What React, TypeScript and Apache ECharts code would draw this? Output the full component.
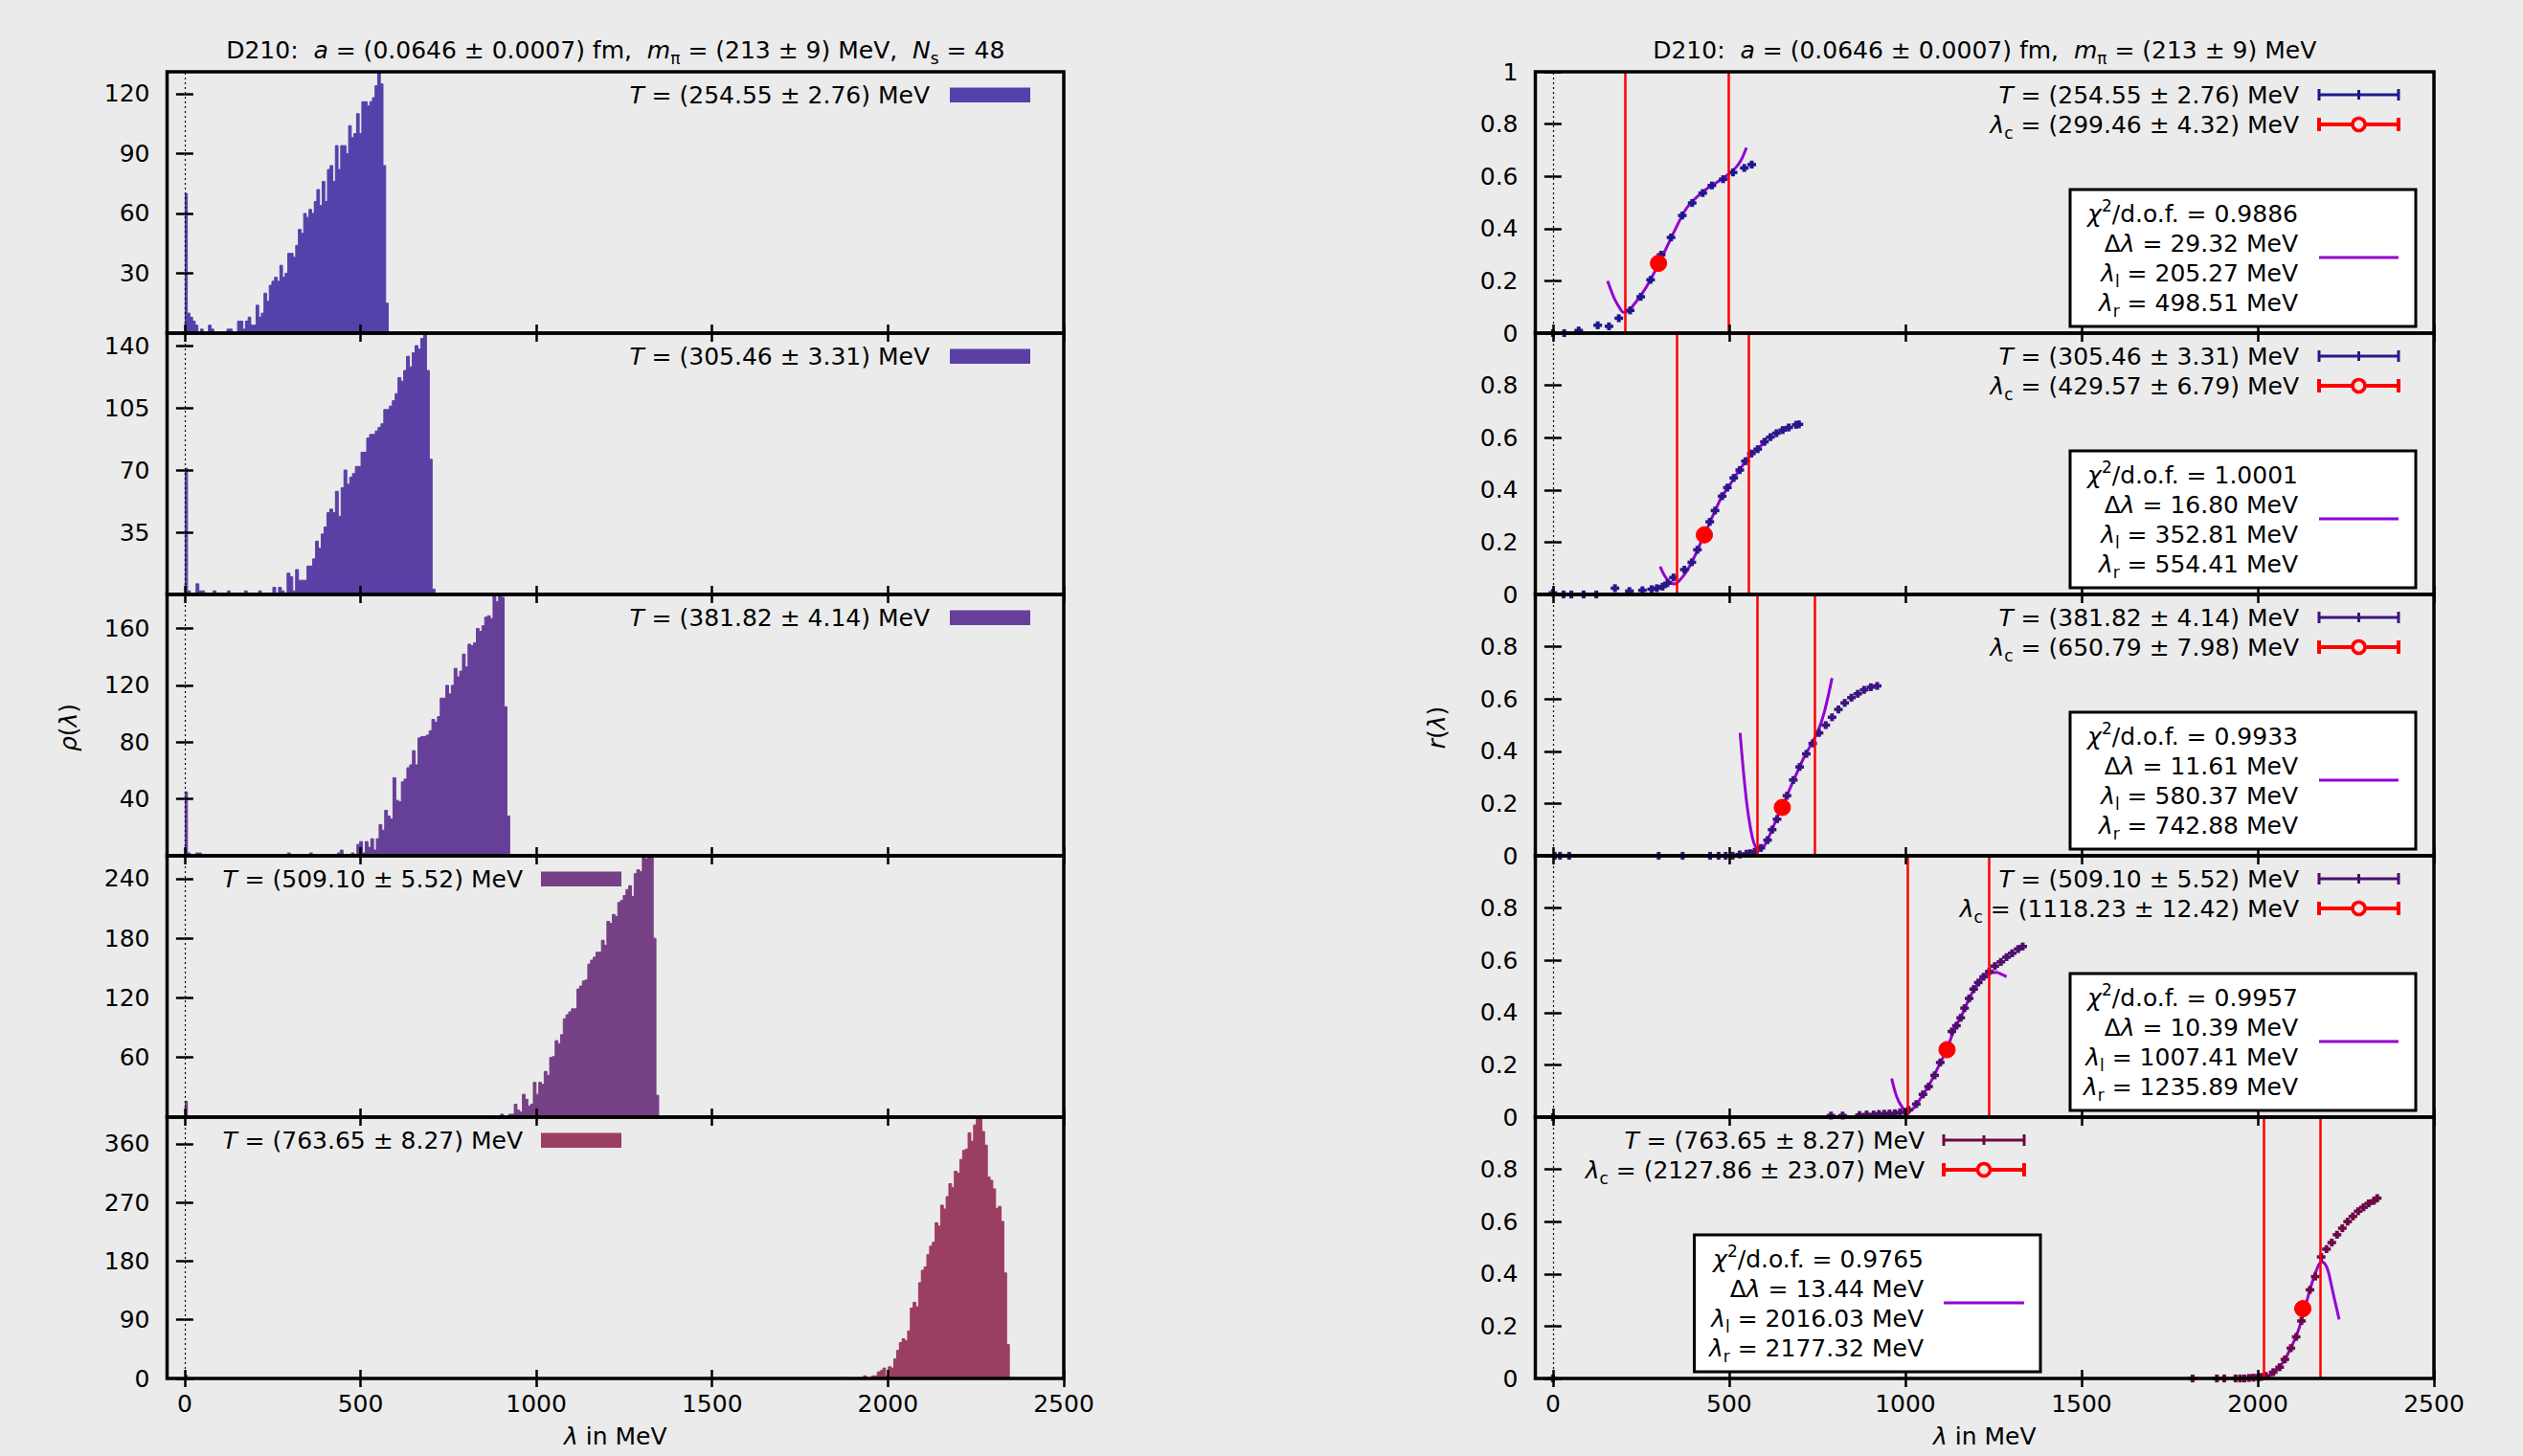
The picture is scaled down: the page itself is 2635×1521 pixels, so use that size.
import React, { useEffect, useRef } from 'react';
import * as echarts from 'echarts';

const W = 2635;
const H = 1521;
const F = 'DejaVu Sans';

// ---------------- data: histograms rho(lambda) ----------------
const hist1Start = 0;
const hist1Width = 7.52;
const hist1Counts = [70, 10, 8, 6, 4, 0, 2, 0, 0, 4, 2, 0, 0, 0, 0, 0, 2, 2, 0, 0,
  6, 6, 2, 6, 8, 4, 4, 14, 8, 10, 20, 16, 24, 26, 28, 26, 34, 28, 30, 40,
  40, 38, 44, 52, 50, 60, 58, 62, 60, 66, 72, 64, 76, 66, 82, 84, 76, 94, 82, 94,
  94, 90, 104, 98, 100, 110, 100, 116, 116, 114, 116, 118, 124, 131, 125, 84, 15];

const hist2Start = 0;
const hist2Width = 8.09;
const hist2Counts = [71, 2, 0, 0, 6, 2, 2, 0, 0, 0, 2, 0, 0, 0, 0, 2, 0, 0, 0, 0,
  0, 2, 0, 0, 0, 0, 2, 0, 0, 0, 0, 4, 0, 4, 2, 0, 12, 10, 2, 14,
  8, 8, 8, 16, 16, 20, 30, 26, 34, 38, 46, 48, 46, 58, 44, 60, 70, 62, 66, 68,
  72, 72, 80, 80, 88, 90, 90, 92, 94, 96, 104, 104, 106, 109, 113, 122, 120, 126, 134, 128,
  136, 140, 138, 144, 147, 126, 76, 3];

const hist3Start = 0;
const hist3Width = 7.9;
const hist3Counts = [45, 2, 0, 0, 2, 2, 0, 0, 0, 0, 0, 0, 0, 0, 0, 0, 0, 0, 0, 0,
  0, 0, 0, 0, 0, 0, 0, 0, 0, 0, 0, 0, 0, 0, 0, 0, 0, 2, 0, 0,
  0, 0, 0, 0, 0, 2, 0, 0, 0, 0, 0, 0, 0, 0, 0, 2, 4, 0, 0, 0,
  2, 0, 8, 10, 2, 10, 6, 12, 4, 12, 22, 18, 32, 28, 26, 55, 39, 38, 52, 54,
  62, 64, 74, 64, 83, 84, 84, 85, 88, 96, 94, 98, 111, 111, 120, 114, 120, 132, 126, 130,
  142, 133, 149, 148, 150, 160, 158, 162, 168, 169, 167, 184, 179, 184, 182, 105, 28];

const hist4LowStart = 0;
const hist4LowWidth = 7.75;
const hist4LowCounts = [16, 1];
const hist4Start = 790;
const hist4Width = 7.75;
const hist4Counts = [1, 0, 0, 0, 1, 0, 0, 0, 0,
  1, 1, 1, 0, 1, 3, 1, 1, 3, 3, 13, 7, 5, 23, 18, 11, 13, 35, 23, 35,
  33, 46, 42, 60, 61, 77, 74, 83, 99, 103, 106, 109, 109, 129, 132, 137, 138, 154, 158, 161,
  166, 166, 178, 173, 197, 195, 204, 202, 216, 218, 223, 229, 233, 222, 245, 249, 247, 262, 260, 263,
  261, 180, 22];

const hist5LowStart = 0;
const hist5LowWidth = 7.8;
const hist5LowCounts = [5];
const hist5Start = 1876;
const hist5Width = 7.82;
const hist5Counts = [1, 0, 0, 0, 0, 0, 0, 4, 1, 0, 4, 4, 10, 12, 16, 4, 18, 16, 30, 43,
  55, 61, 58, 73, 108, 117, 110, 147, 166, 171, 190, 203, 209, 239, 234, 266, 260, 279, 299, 293,
  318, 315, 336, 350, 352, 377, 364, 389, 401, 398, 379, 358, 309, 304, 291, 261, 264, 241, 162, 52];

const hist1YTicks = [30, 60, 90, 120];
const hist2YTicks = [35, 70, 105, 140];
const hist3YTicks = [40, 80, 120, 160];
const hist4YTicks = [60, 120, 180, 240];
const hist5YTicks = [0, 90, 180, 270, 360];
const xTicks = [0, 500, 1000, 1500, 2000, 2500];
const rTicksTop = [0, 0.2, 0.4, 0.6, 0.8, 1];
const rTicks = [0, 0.2, 0.4, 0.6, 0.8];

// ---------------- data: r(lambda) ----------------
const pts1Lambda = [0, 32, 73, 127, 159, 187, 219, 249, 277, 307, 335, 367, 395, 425, 451, 483, 511, 543, 564];
const pts1R = [0, 0, 0.01, 0.03, 0.026, 0.057, 0.087, 0.139, 0.204, 0.3, 0.366, 0.45, 0.498, 0.536, 0.565, 0.589, 0.615, 0.632, 0.645];
const fit1Lambda = [155, 175, 190, 200, 215, 230, 250, 275, 300, 325, 350, 375, 400, 425, 450, 475, 500, 520, 535, 549];
const fit1R = [0.2, 0.13, 0.095, 0.08, 0.085, 0.11, 0.145, 0.2, 0.265, 0.335, 0.405, 0.47, 0.51, 0.54, 0.565, 0.585, 0.61, 0.635, 0.665, 0.71];

const pts2Lambda = [0, 30, 52, 87, 123, 176, 217, 254, 280, 295, 311, 325, 342, 373, 394, 410, 428, 445, 460, 480, 495, 513, 530, 546, 563, 581, 600, 617, 634, 652, 669, 690, 698];
const pts2R = [0.006, 0, 0, 0, 0, 0.024, 0.013, 0.016, 0.02, 0.024, 0.03, 0.043, 0.065, 0.095, 0.123, 0.171, 0.225, 0.278, 0.321, 0.376, 0.409, 0.446, 0.476, 0.51, 0.539, 0.556, 0.584, 0.602, 0.617, 0.629, 0.639, 0.649, 0.651];
const fit2Lambda = [304, 320, 335, 345, 360, 380, 400, 420, 440, 460, 480, 500, 520, 540, 560, 580, 600, 606];
const fit2R = [0.107, 0.065, 0.045, 0.04, 0.055, 0.09, 0.14, 0.2, 0.26, 0.32, 0.376, 0.415, 0.458, 0.497, 0.535, 0.556, 0.584, 0.6];

const pts3Lambda = [5, 20, 46, 300, 368, 446, 470, 490, 510, 530, 549, 560, 572, 590, 609, 622, 636, 664, 682, 700, 719, 737, 755, 774, 792, 810, 828, 847, 865, 883, 902, 920];
const pts3R = [0, 0, 0, 0, 0, 0, 0, 0, 0, 0.005, 0.008, 0.01, 0.015, 0.03, 0.06, 0.1, 0.14, 0.23, 0.29, 0.34, 0.39, 0.43, 0.47, 0.5, 0.53, 0.56, 0.585, 0.605, 0.62, 0.635, 0.645, 0.65];
const fit3Lambda = [531, 540, 550, 560, 570, 581, 595, 610, 625, 640, 655, 670, 690, 710, 730, 750, 770, 792];
const fit3R = [0.47, 0.33, 0.2, 0.11, 0.05, 0.025, 0.03, 0.065, 0.11, 0.16, 0.2, 0.25, 0.31, 0.37, 0.42, 0.47, 0.55, 0.68];

const pts4Lambda = [0, 789, 822, 870, 890, 910, 925, 940, 955, 970, 985, 1000, 1009, 1031, 1050, 1066, 1083, 1099, 1132, 1145, 1157, 1168, 1181, 1194, 1207, 1222, 1238, 1254, 1271, 1287, 1303, 1320, 1333];
const pts4R = [0, 0.006, 0.006, 0.008, 0.01, 0.01, 0.012, 0.013, 0.014, 0.015, 0.018, 0.02, 0.028, 0.05, 0.087, 0.117, 0.16, 0.209, 0.328, 0.35, 0.38, 0.417, 0.454, 0.49, 0.515, 0.537, 0.557, 0.578, 0.594, 0.612, 0.627, 0.643, 0.653];
const fit4Lambda = [961, 975, 990, 1005, 1020, 1035, 1050, 1065, 1080, 1100, 1118, 1140, 1160, 1180, 1200, 1220, 1240, 1259, 1275, 1287];
const fit4R = [0.148, 0.08, 0.04, 0.02, 0.03, 0.055, 0.087, 0.117, 0.155, 0.21, 0.26, 0.34, 0.39, 0.45, 0.5, 0.535, 0.552, 0.554, 0.545, 0.537];

const pts5Lambda = [0, 1815, 1884, 1905, 1937, 1950, 1962, 1975, 1988, 2002, 2010, 2023, 2044, 2062, 2077, 2094, 2109, 2124, 2148, 2163, 2180, 2195, 2210, 2225, 2240, 2255, 2270, 2285, 2300, 2315, 2330, 2339];
const pts5R = [0, 0, 0, 0, 0, 0, 0, 0.002, 0.003, 0.004, 0.006, 0.01, 0.024, 0.043, 0.073, 0.116, 0.159, 0.22, 0.339, 0.39, 0.465, 0.495, 0.52, 0.55, 0.575, 0.6, 0.62, 0.64, 0.655, 0.67, 0.68, 0.69];
const fit5Lambda = [1980, 2000, 2020, 2035, 2050, 2065, 2080, 2095, 2110, 2125, 2140, 2155, 2170, 2180, 2190, 2200, 2210, 2220, 2231];
const fit5R = [0.012, 0.01, 0.008, 0.012, 0.03, 0.05, 0.08, 0.12, 0.165, 0.225, 0.3, 0.37, 0.425, 0.446, 0.44, 0.41, 0.35, 0.29, 0.226];

const pointErr = [0.015, 0.015, 0.015, 0.015, 0.015];

const tempVal = [254.55, 305.46, 381.82, 509.1, 763.65];
const tempErr = [2.76, 3.31, 4.14, 5.52, 8.27];
const lamC = [299.46, 429.57, 650.79, 1118.23, 2127.86];
const lamCErr = [4.32, 6.79, 7.98, 12.42, 23.07];
const lamCR = [0.267, 0.228, 0.185, 0.258, 0.267];
const chi2 = ['0.9886', '1.0001', '0.9933', '0.9957', '0.9765'];
const dLam = [29.32, 16.8, 11.61, 10.39, 13.44];
const lamL = [205.27, 352.81, 580.37, 1007.41, 2016.03];
const lamR = [498.51, 554.41, 742.88, 1235.89, 2177.32];

const histColors = ['#5243ab', '#5a40a5', '#663f99', '#764085', '#9b3f62'];
const pointColors = ['#1c1891', '#2a178c', '#3b1482', '#4d0f6c', '#6d0a45'];
const FIT = '#9400d3';
const RED = '#ff0000';
const BG = '#ebebeb';

// ---------------- layout ----------------
const TOPS = [75, 348, 621, 894, 1167];
const PH = 273;
const LX = 174.5, LW = 936.5;
const RX = 1603.5, RW = 938.5;

const RICH = {
  i: { fontStyle: 'italic', fontSize: 25, fontFamily: F, lineHeight: 34, fill: '#000' },
  sub: { fontSize: 17, fontFamily: F, lineHeight: 18, verticalAlign: 'bottom', fill: '#000' },
  sup: { fontSize: 17, fontFamily: F, lineHeight: 18, verticalAlign: 'top', fill: '#000' },
};

function txt(x: number, y: number, text: string, align = 'right', extra: any = {}) {
  return {
    type: 'text', x, y, z: 100, ...extra,
    style: { text, align, verticalAlign: 'middle', fill: '#000', fontSize: 25, fontFamily: F, lineHeight: 34, rich: RICH },
  };
}
function ln(x1: number, y1: number, x2: number, y2: number, stroke: string, lineWidth: number) {
  return { type: 'line', z: 100, shape: { x1, y1, x2, y2 }, style: { stroke, lineWidth } };
}

function stepData(start: number, width: number, counts: number[]) {
  const d: number[][] = counts.map((c, k) => [start + k * width, c]);
  d.push([start + counts.length * width, 0]);
  return d;
}

function buildOption() {
  const leftPanels = [
    { segs: [[hist1Start, hist1Width, hist1Counts]], ticks: hist1YTicks },
    { segs: [[hist2Start, hist2Width, hist2Counts]], ticks: hist2YTicks },
    { segs: [[hist3Start, hist3Width, hist3Counts]], ticks: hist3YTicks },
    { segs: [[hist4LowStart, hist4LowWidth, hist4LowCounts], [hist4Start, hist4Width, hist4Counts]], ticks: hist4YTicks },
    { segs: [[hist5LowStart, hist5LowWidth, hist5LowCounts], [hist5Start, hist5Width, hist5Counts]], ticks: hist5YTicks },
  ];
  const rightPanels = [
    { pl: pts1Lambda, pr: pts1R, fl: fit1Lambda, fr: fit1R },
    { pl: pts2Lambda, pr: pts2R, fl: fit2Lambda, fr: fit2R },
    { pl: pts3Lambda, pr: pts3R, fl: fit3Lambda, fr: fit3R },
    { pl: pts4Lambda, pr: pts4R, fl: fit4Lambda, fr: fit4R },
    { pl: pts5Lambda, pr: pts5R, fl: fit5Lambda, fr: fit5R },
  ];

  const grids: any[] = [];
  const xAxes: any[] = [];
  const yAxes: any[] = [];
  const series: any[] = [];
  const graphics: any[] = [];

  const tickStyle = { show: true, inside: true, length: 9, lineStyle: { color: '#000', width: 2.5 } };
  const labelBase = { fontSize: 25, fontFamily: F, color: '#000' };

  const addAxes = (g: number, isBottom: boolean, yMin: number, yMax: number, yTicks: number[], yFmt: (v: number) => string) => {
    ['bottom', 'top'].forEach((pos) => {
      xAxes.push({
        type: 'value', gridIndex: g, position: pos, min: -50, max: 2500, z: 10,
        axisLine: { show: false }, splitLine: { show: false },
        axisTick: { ...tickStyle, customValues: xTicks },
        axisLabel: { ...labelBase, show: isBottom && pos === 'bottom', customValues: xTicks, margin: 14, formatter: (v: number) => String(v) },
      });
    });
    ['left', 'right'].forEach((pos) => {
      yAxes.push({
        type: 'value', gridIndex: g, position: pos, min: yMin, max: yMax, z: 10,
        axisLine: { show: false }, splitLine: { show: false },
        axisTick: { ...tickStyle, customValues: yTicks },
        axisLabel: { ...labelBase, show: pos === 'left', customValues: yTicks, margin: 18, formatter: yFmt },
      });
    });
  };

  // left histograms
  leftPanels.forEach((p, i) => {
    const g = i;
    grids.push({ left: LX, top: TOPS[i], width: LW, height: PH });
    let yMax = 0;
    p.segs.forEach((s: any) => { yMax = Math.max(yMax, ...s[2]); });
    addAxes(g, i === 4, 0, yMax, p.ticks, (v) => String(v));
    p.segs.forEach((s: any, k: number) => {
      series.push({
        type: 'line', xAxisIndex: 2 * g, yAxisIndex: 2 * g, step: 'end', silent: true,
        data: stepData(s[0], s[1], s[2]), symbol: 'none', z: 2,
        lineStyle: { width: 1, color: histColors[i] }, itemStyle: { color: histColors[i] },
        areaStyle: { color: histColors[i], opacity: 1 },
        markLine: k === 0 ? {
          silent: true, symbol: ['none', 'none'], label: { show: false },
          lineStyle: { type: [2, 3], color: '#000', width: 1.2 }, data: [{ xAxis: 0 }],
        } : undefined,
      });
    });
    graphics.push({ type: 'rect', z: 120, shape: { x: LX, y: TOPS[i], width: LW, height: PH }, style: { fill: 'none', stroke: '#000', lineWidth: 3.5 } });
    const tr = i < 3 ? 971 : 546;
    const s0 = i < 3 ? 992 : 565;
    const s1 = i < 3 ? 1076 : 649;
    graphics.push(txt(tr, TOPS[i] + 24, `{i|T} = (${tempVal[i].toFixed(2)} ± ${tempErr[i].toFixed(2)}) MeV`));
    graphics.push({ type: 'rect', z: 100, shape: { x: s0, y: TOPS[i] + 16.5, width: s1 - s0, height: 15.5 }, style: { fill: histColors[i] } });
  });

  // right r(lambda)
  rightPanels.forEach((p, i) => {
    const g = 5 + i;
    grids.push({ left: RX, top: TOPS[i], width: RW, height: PH });
    addAxes(g, i === 4, 0, 1, i === 0 ? rTicksTop : rTicks, (v) => String(+v.toFixed(1)));
    const color = pointColors[i];
    const err = pointErr[i];
    series.push({
      type: 'line', xAxisIndex: 2 * g, yAxisIndex: 2 * g, silent: true, z: 3,
      data: p.fl.map((l, k) => [l, p.fr[k]]), symbol: 'none', smooth: 0.3,
      lineStyle: { width: 3, color: FIT }, itemStyle: { color: FIT },
      markLine: {
        silent: true, symbol: ['none', 'none'], label: { show: false },
        lineStyle: { type: 'solid', color: RED, width: 2.5 },
        data: [{ xAxis: lamL[i] }, { xAxis: lamR[i] }],
      },
    });
    series.push({
      type: 'custom', xAxisIndex: 2 * g, yAxisIndex: 2 * g, silent: true, z: 4,
      data: p.pl.map((l, k) => [l, p.pr[k]]),
      renderItem: (params: any, api: any) => {
        const x = api.value(0), y = api.value(1);
        const c = api.coord([x, y]);
        const t = api.coord([x, y + err]);
        const b = api.coord([x, y - err]);
        return {
          type: 'group', children: [
            { type: 'line', shape: { x1: c[0], y1: t[1], x2: c[0], y2: b[1] }, style: { stroke: color, lineWidth: 4 } },
            { type: 'line', shape: { x1: c[0] - 4.5, y1: c[1], x2: c[0] + 4.5, y2: c[1] }, style: { stroke: color, lineWidth: 3.5 } },
          ],
        };
      },
      markLine: {
        silent: true, symbol: ['none', 'none'], label: { show: false },
        lineStyle: { type: [2, 3], color: '#000', width: 1.2 }, data: [{ xAxis: 0 }],
      },
    });
    series.push({
      type: 'custom', xAxisIndex: 2 * g, yAxisIndex: 2 * g, silent: true, z: 5,
      data: [[lamC[i], lamCR[i], lamCErr[i]]],
      renderItem: (params: any, api: any) => {
        const x = api.value(0), y = api.value(1), e = api.value(2);
        const c = api.coord([x, y]);
        const l = api.coord([x - e, y]);
        const r = api.coord([x + e, y]);
        return {
          type: 'group', children: [
            { type: 'line', shape: { x1: l[0], y1: c[1], x2: r[0], y2: c[1] }, style: { stroke: RED, lineWidth: 4 } },
            { type: 'circle', shape: { cx: c[0], cy: c[1], r: 8.5 }, style: { fill: RED, stroke: RED, lineWidth: 1 } },
          ],
        };
      },
    });

    graphics.push({ type: 'rect', z: 120, shape: { x: RX, y: TOPS[i], width: RW, height: PH }, style: { fill: 'none', stroke: '#000', lineWidth: 3.5 } });
    const top = TOPS[i];
    const tr = i < 4 ? 2401 : 2010;
    const s0 = i < 4 ? 2422 : 2030;
    const s1 = i < 4 ? 2505 : 2114;
    const b0 = i < 4 ? 2162 : 1769.5;
    const b1 = i < 4 ? 2523 : 2131;
    const sm = (s0 + s1) / 2;
    // legend line 1
    graphics.push(txt(tr, top + 24, `{i|T} = (${tempVal[i].toFixed(2)} ± ${tempErr[i].toFixed(2)}) MeV`));
    graphics.push(ln(s0, top + 24, s1, top + 24, color, 3));
    graphics.push(ln(s0, top + 18, s0, top + 30, color, 3));
    graphics.push(ln(s1, top + 18, s1, top + 30, color, 3));
    graphics.push(ln(sm, top + 19, sm, top + 29, color, 3));
    // legend line 2
    graphics.push(txt(tr, top + 55, `{i|λ}{sub|c} = (${lamC[i].toFixed(2)} ± ${lamCErr[i].toFixed(2)}) MeV`));
    graphics.push(ln(s0, top + 55, s1, top + 55, RED, 4));
    graphics.push(ln(s0, top + 48, s0, top + 62, RED, 4));
    graphics.push(ln(s1, top + 48, s1, top + 62, RED, 4));
    graphics.push({ type: 'circle', z: 101, shape: { cx: sm, cy: top + 55, r: 6.5 }, style: { fill: '#fbe3e3', stroke: RED, lineWidth: 3.5 } });
    // fit box
    graphics.push({ type: 'rect', z: 95, shape: { x: b0, y: top + 123, width: b1 - b0, height: 143 }, style: { fill: '#ffffff', stroke: '#000', lineWidth: 3 } });
    graphics.push(txt(tr - 1, top + 148, `{i|χ}{sup|2}/d.o.f. = ${chi2[i]}`));
    graphics.push(txt(tr - 1, top + 179, `Δ{i|λ} = ${dLam[i].toFixed(2)} MeV`));
    graphics.push(txt(tr - 1, top + 210, `{i|λ}{sub|l} = ${lamL[i].toFixed(2)} MeV`));
    graphics.push(txt(tr - 1, top + 241, `{i|λ}{sub|r} = ${lamR[i].toFixed(2)} MeV`));
    graphics.push(ln(s0, top + 194, s1, top + 194, FIT, 3));
  });

  // titles and axis names
  graphics.push(txt(LX + LW / 2, 52, 'D210:  {i|a} = (0.0646 ± 0.0007) fm,  {i|m}{sub|π} = (213 ± 9) MeV,  {i|N}{sub|s} = 48', 'center'));
  graphics.push(txt(RX + RW / 2, 52, 'D210:  {i|a} = (0.0646 ± 0.0007) fm,  {i|m}{sub|π} = (213 ± 9) MeV', 'center'));
  graphics.push(txt(71, 760, '{i|ρ}({i|λ})', 'center', { rotation: Math.PI / 2 }));
  graphics.push(txt(1500, 760, '{i|r}({i|λ})', 'center', { rotation: Math.PI / 2 }));
  graphics.push(txt(LX + LW / 2, 1500, '{i|λ} in MeV', 'center'));
  graphics.push(txt(RX + RW / 2, 1500, '{i|λ} in MeV', 'center'));

  return {
    animation: false,
    backgroundColor: BG,
    grid: grids,
    xAxis: xAxes,
    yAxis: yAxes,
    series,
    graphic: { elements: graphics },
  };
}

export default function App() {
  const ref = useRef<HTMLDivElement>(null);
  useEffect(() => {
    const chart = echarts.init(ref.current!, null, { renderer: 'svg', width: W, height: H });
    chart.setOption(buildOption() as any);
    return () => chart.dispose();
  }, []);
  return <div ref={ref} style={{ position: 'fixed', left: 0, top: 0, width: W, height: H }} />;
}
